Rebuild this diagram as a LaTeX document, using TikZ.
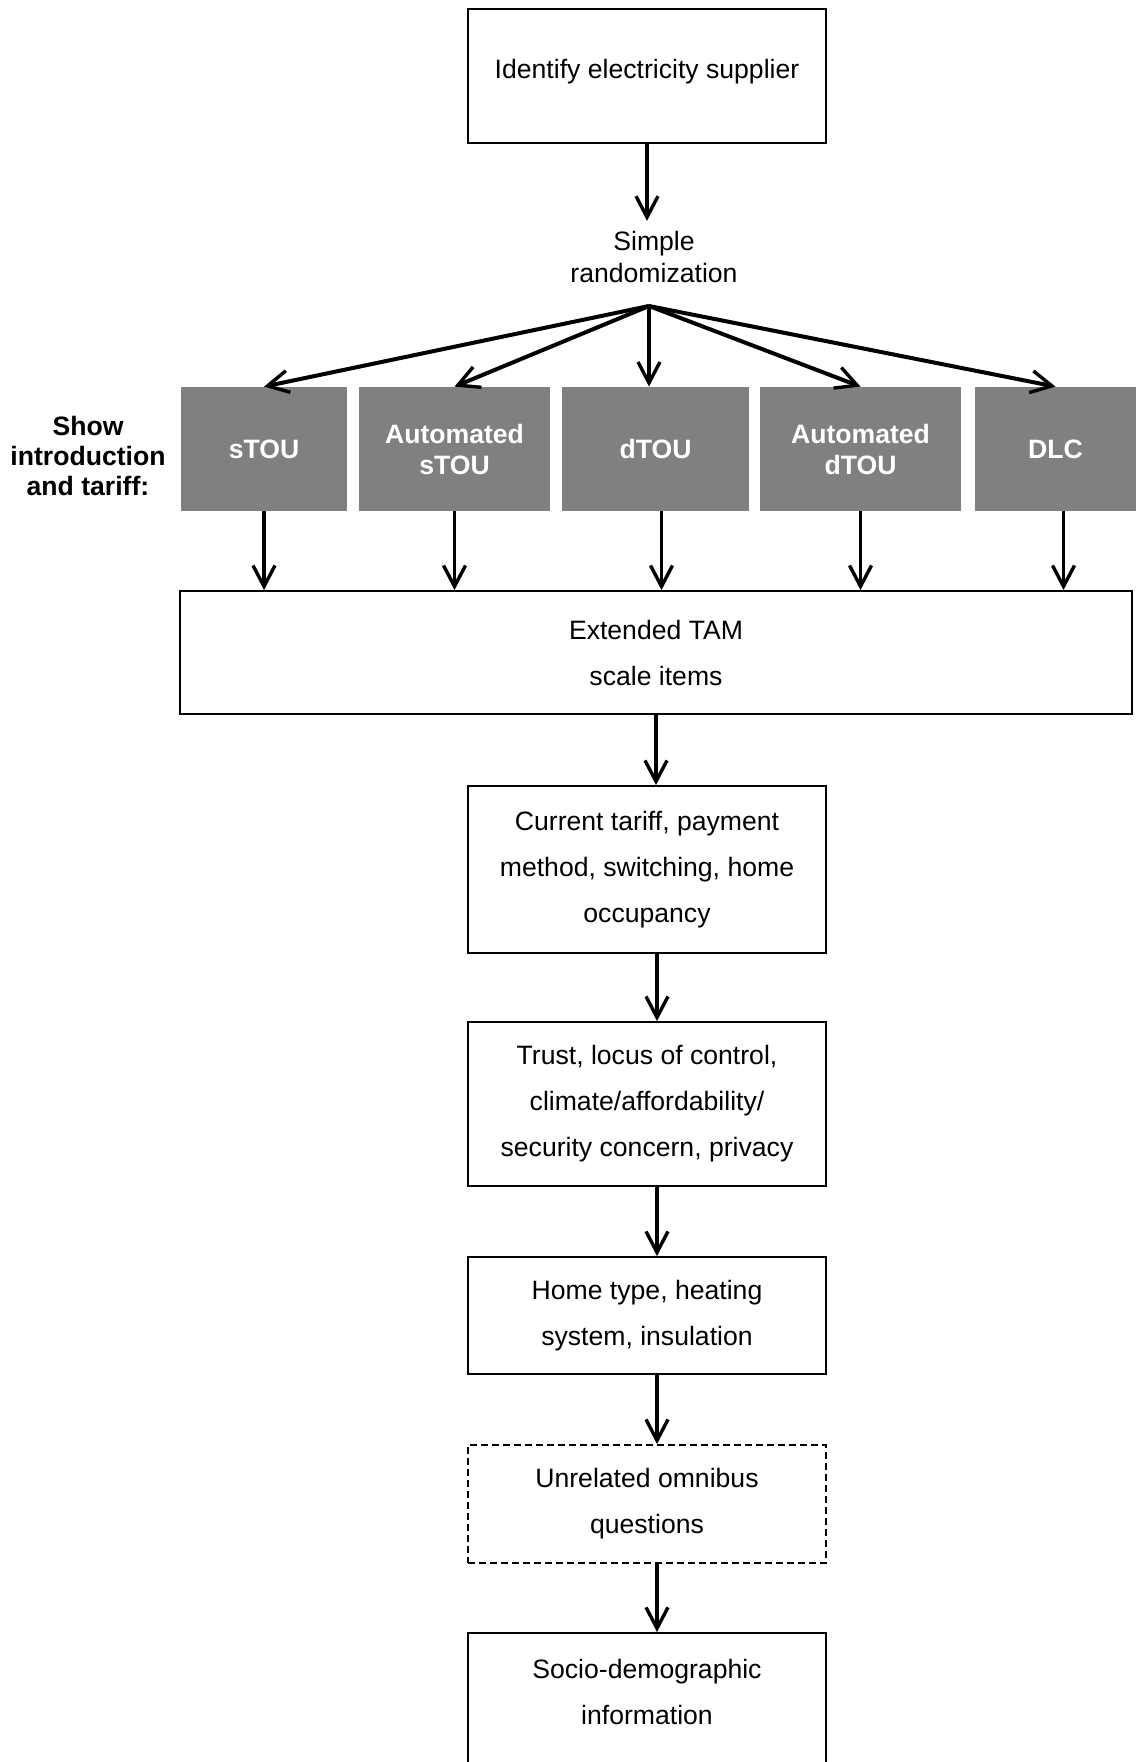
\documentclass[tikz,border=0pt]{standalone}
\usepackage{fontspec}
\setmainfont{Liberation Sans}
\usetikzlibrary{arrows.meta}

\begin{document}
\begin{tikzpicture}[x=0.5pt, y=-0.5pt,
	every node/.style={font=\fontsize{13.3pt}{23pt}\selectfont, align=center},
	box/.style={rectangle, draw=black, line width=0.9pt, minimum width=179pt},
	graybox/.style={rectangle, fill=black!50, text=white, minimum height=62pt, font=\fontsize{13.3pt}{15.5pt}\selectfont\bfseries},
	arr/.style={draw=black, line width=1.7pt, -{Straight Barb[length=10.5pt, width=11pt, line width=1.7pt]}},
	fanarr/.style={arr, line width=2pt}]
			\useasboundingbox (0,0) rectangle (1138,1762);
			\node[box, minimum height=67pt, text depth=7.3pt] (supplier) at (647,76){Identify electricity supplier};
			\node[inner sep=5pt, font=\fontsize{13.3pt}{16pt}\selectfont] (rand) at (654,257){Simple\\randomization};
			\coordinate (fan) at (649,306);
			
			\node[font=\fontsize{13.3pt}{15pt}\selectfont\bfseries] (show) at (88,456){Show\\introduction\\and tariff:};
			\node[graybox, minimum width=83pt] (stou) at (264,449){sTOU};
			\node[graybox, minimum width=95.5pt] (astou) at (454.5,449){Automated\\sTOU};
			\node[graybox, minimum width=93.5pt] (dtou) at (655.5,449){dTOU};
			\node[graybox, minimum width=100.5pt] (adtou) at (860.5,449){Automated\\dTOU};
			\node[graybox, minimum width=80.5pt] (dlc) at (1055.5,449){DLC};
			
			\node[box, minimum width=476pt, minimum height=61.5pt] (tam) at (656,652.5){Extended TAM\\scale items};
			\node[box, minimum height=83.5pt] (current) at (647,869.5){Current tariff, payment\\method, switching, home\\occupancy};
			\node[box, minimum height=82pt] (trust) at (647,1104){Trust, locus of control,\\climate/affordability/\\security concern, privacy};
			\node[box, minimum height=58.5pt] (home) at (647,1315.5){Home type, heating\\system, insulation};
			\node[box, dash pattern=on 3.5pt off 2pt, minimum height=59pt] (unrel) at (647,1504){Unrelated omnibus\\questions};
			\node[box, minimum height=82pt, anchor=north] (socio) at (647,1632){Socio-demographic\\information\\\mbox{}};
			
			\path (supplier.south) edge[arr] (supplier.south |- rand.north);
			\path (fan) edge[fanarr] (stou.north);
			\path (fan) edge[fanarr] (astou.north);
			\path (fan) edge[fanarr] (fan |- dtou.north);
			\path (fan) edge[fanarr] (adtou.north);
			\path (fan) edge[fanarr] (dlc.north);
			\path (stou.south) edge[arr] (stou.south |- tam.north);
			\path (astou.south) edge[arr] (astou.south |- tam.north);
			\path ([xshift=3pt]dtou.south) edge[arr] ([xshift=3pt]dtou.south |- tam.north);
			\path (adtou.south) edge[arr] (adtou.south |- tam.north);
			\path ([xshift=4pt]dlc.south) edge[arr] ([xshift=4pt]dlc.south |- tam.north);
			\path (tam.south) edge[arr] (tam.south |- current.north);
			\path ([xshift=5pt]current.south) edge[arr] ([xshift=5pt]trust.north);
			\path ([xshift=5pt]trust.south) edge[arr] ([xshift=5pt]home.north);
			\path ([xshift=5pt]home.south) edge[arr] ([xshift=5pt]unrel.north);
			\path ([xshift=5pt]unrel.south) edge[arr] ([xshift=5pt]socio.north);
			\end{tikzpicture}
\end{document}
